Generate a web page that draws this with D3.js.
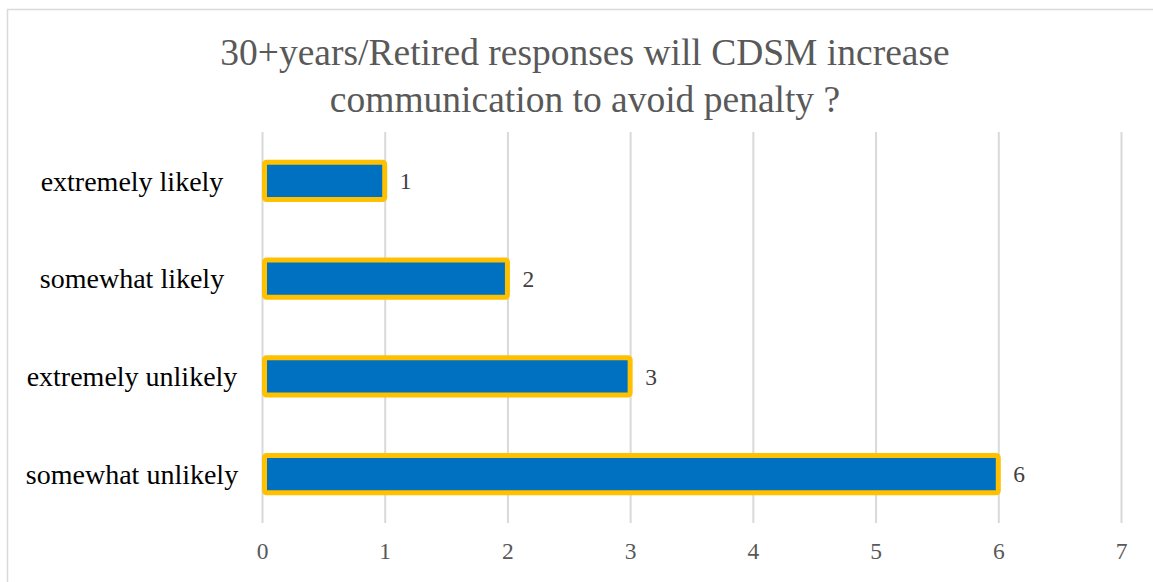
<!DOCTYPE html>
<html>
<head>
<meta charset="utf-8">
<script src="https://cdn.jsdelivr.net/npm/d3@7"></script>
<style>
  html, body { margin: 0; padding: 0; background: #fff; }
  svg { display: block; }
</style>
</head>
<body>
<svg id="chart" width="1153" height="582"></svg>
<script>
// Survey answers, top to bottom
const categories = ["extremely likely", "somewhat likely", "extremely unlikely", "somewhat unlikely"];
const counts = [1, 2, 3, 6];
const xTicks = [0, 1, 2, 3, 4, 5, 6, 7];
const titleLines = ["30+years/Retired responses will CDSM increase", "communication to avoid penalty ?"];

const svg = d3.select("#chart");
const W = 1153, H = 582;
const serif = "'Liberation Serif', 'Times New Roman', serif";

// chart area frame
svg.append("rect")
  .attr("x", 7.5).attr("y", 9.5)
  .attr("width", W).attr("height", H)
  .attr("fill", "#fff").attr("stroke", "#d9d9d9").attr("stroke-width", 1.5);

const plot = { left: 262, right: 1121, top: 132, bottom: 523 };

const x = d3.scaleLinear().domain([0, 7]).range([plot.left, plot.right]);
const y = d3.scaleBand().domain(categories).range([plot.top, plot.bottom]).paddingInner(0.62).paddingOuter(0.31);

// title
svg.append("g").selectAll("text").data(titleLines).join("text")
  .attr("x", 585).attr("y", (d, i) => 65 + i * 47)
  .attr("text-anchor", "middle")
  .attr("font-family", serif)
  .attr("font-size", 37.5)
  .attr("fill", "#595959")
  .text(d => d);

// vertical gridlines and tick labels
const xAxis = d3.axisBottom(x).tickValues(xTicks).tickFormat(d3.format("d"))
  .tickSize(-(plot.bottom - plot.top)).tickPadding(19);
const gx = svg.append("g")
  .attr("transform", `translate(0,${plot.bottom})`)
  .call(xAxis);
gx.select(".domain").remove();
gx.selectAll(".tick line").attr("stroke", "#d9d9d9").attr("stroke-width", 2);
gx.selectAll(".tick text")
  .attr("font-family", serif)
  .attr("font-size", 23.5)
  .attr("fill", "#595959");

// category labels
svg.append("g").selectAll("text").data(categories).join("text")
  .attr("x", 132)
  .attr("y", d => y(d) + y.bandwidth() / 2)
  .attr("dy", "0.35em")
  .attr("text-anchor", "middle")
  .attr("font-family", serif)
  .attr("font-size", 28)
  .attr("fill", "#000")
  .text(d => d);

// bars
svg.append("g").selectAll("rect").data(categories).join("rect")
  .attr("x", x(0) + 2.5)
  .attr("y", d => y(d))
  .attr("width", (d, i) => x(counts[i]) - x(0) - 2.5)
  .attr("height", y.bandwidth())
  .attr("rx", 2)
  .attr("fill", "#0070C0")
  .attr("stroke", "#FFC000")
  .attr("stroke-width", 5);

// value labels
svg.append("g").selectAll("text").data(categories).join("text")
  .attr("x", (d, i) => x(counts[i]) + 15)
  .attr("y", d => y(d) + y.bandwidth() / 2)
  .attr("dy", "0.35em")
  .attr("font-family", serif)
  .attr("font-size", 23.5)
  .attr("fill", "#404040")
  .text((d, i) => counts[i]);
</script>
</body>
</html>
